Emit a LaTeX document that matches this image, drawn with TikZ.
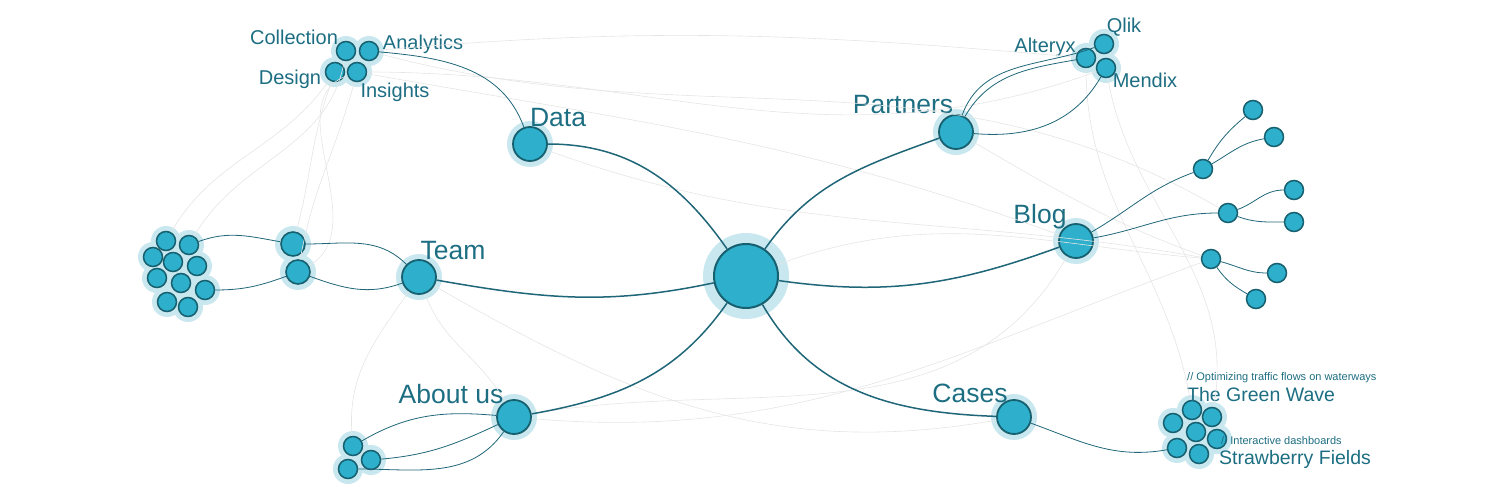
\documentclass[tikz,border=0pt]{standalone}
\usepackage{fontspec}
\setmainfont{Liberation Sans}
\usetikzlibrary{positioning,calc}
\pgfdeclarelayer{background}
\pgfsetlayers{background,main}
\definecolor{dotcol}{HTML}{2EAFCC}
\definecolor{rimcol}{HTML}{16606F}
\definecolor{glowcol}{HTML}{C8E7EF}
\definecolor{inkcol}{HTML}{1D6E82}
\definecolor{linkcol}{HTML}{1F6678}

\tikzset{
  hub/.style={circle, draw=rimcol, line width=2pt, fill=dotcol, inner sep=0pt, minimum size=64pt},
  topic/.style={circle, draw=rimcol, line width=1.8pt, fill=dotcol, inner sep=0pt, minimum size=34pt},
  mid/.style={circle, draw=rimcol, line width=1.6pt, fill=dotcol, inner sep=0pt, minimum size=24pt},
  leaf/.style={circle, draw=rimcol, line width=1.5pt, fill=dotcol, inner sep=0pt, minimum size=19pt},
  biglbl/.style={text=inkcol, font=\fontsize{26.5}{28}\selectfont, inner sep=0pt},
  smalllbl/.style={text=inkcol, font=\fontsize{20}{22}\selectfont, inner sep=0pt},
  caselbl/.style={text=inkcol, font=\fontsize{19.5}{21}\selectfont, inner sep=0pt, anchor=west},
  notelbl/.style={text=inkcol, font=\fontsize{11}{12}\selectfont, inner sep=0pt, anchor=west},
  link/.style={draw=linkcol, line width=1.5pt},
  twig/.style={draw=linkcol, line width=0.8pt},
  faint/.style={draw=black!10, line width=0.6pt},
  glow/.style={fill=glowcol}
}

\begin{document}
\begin{tikzpicture}[x=1pt, y=-1pt]
    \useasboundingbox (0,0) rectangle (1500,500);

    % Hub and topics
    \node[hub] (hub) at (746,276) {};
    \node[topic] (data) at (530,144) {};
    \node[topic] (team) at (419,277) {};
    \node[topic] (about) at (514,417) {};
    \node[topic] (partners) at (956,132) {};
    \node[topic] (blog) at (1076,241) {};
    \node[topic] (cases) at (1014,417) {};

    \node[biglbl] (dataL) at (558,118) {Data};
    \node[biglbl] (teamL) at (453,251) {Team};
    \node[biglbl] (aboutL) at (451,394) {About us};
    \node[biglbl] (partnersL) at (903,105) {Partners};
    \node[biglbl] (blogL) at (1040,217) {Blog};
    \node[biglbl] (casesL) at (970,393) {Cases};

    % Data cluster
    \node[leaf] (col) at (346,51) {};
    \node[leaf] (ana) at (369,51) {};
    \node[leaf] (des) at (335,72) {};
    \node[leaf] (ins) at (357,72) {};
    \node[smalllbl] (colL) at (294,37) {Collection};
    \node[smalllbl] (anaL) at (423,44) {Analytics};
    \node[smalllbl] (desL) at (290,79) {Design};
    \node[smalllbl] (insL) at (395,92) {Insights};

    % Partners cluster
    \node[leaf] (qlik) at (1104,44) {};
    \node[leaf] (alteryx) at (1086,58) {};
    \node[leaf] (mendix) at (1106,68) {};
    \node[smalllbl] (qlikL) at (1124,27) {Qlik};
    \node[smalllbl] (alteryxL) at (1045,47) {Alteryx};
    \node[smalllbl] (mendixL) at (1145,80) {Mendix};

    % Team cluster
    \node[mid] (tm1) at (293,244) {};
    \node[mid] (tm2) at (298,272) {};
    \foreach \n/\x/\y in {t1/166/241, t2/189/245, t3/153/257, t4/173/262, t5/197/266,
                         t6/157/278, t7/181/283, t8/205/290, t9/167/302, t10/188/307}
      \node[leaf] (\n) at (\x,\y) {};

    % About us cluster
    \node[leaf] (a1) at (353,446) {};
    \node[leaf] (a2) at (371,460) {};
    \node[leaf] (a3) at (348,469) {};

    % Blog tree
    \foreach \n/\x/\y in {b1/1203/169, b1a/1253/110, b1b/1274/137, b2/1228/213, b2a/1294/190,
                         b2b/1294/222, b3/1211/259, b3a/1277/273, b3b/1256/299}
      \node[leaf] (\n) at (\x,\y) {};

    % Cases cluster
    \foreach \n/\x/\y in {c1/1192/410, c2/1212/417, c3/1173/423, c4/1196/432,
                         c5/1217/439, c6/1177/448, c7/1199/454}
      \node[leaf] (\n) at (\x,\y) {};
    \node[notelbl] (greenN) at (1187,378) {// Optimizing traffic flows on waterways};
    \node[caselbl] (greenL) at (1187,395) {The Green Wave};
    \node[notelbl] (strawN) at (1221,441) {// Interactive dashboards};
    \node[caselbl] (strawL) at (1219,459) {Strawberry Fields};

    % Glow behind the nodes
    \begin{pgfonlayer}{background}
      \fill[glow] (hub) circle (43pt);
      \foreach \n in {data, team, about, partners, blog, cases}
        \fill[glow] (\n) circle (23pt);
      \foreach \n in {tm1, tm2}
        \fill[glow] (\n) circle (18pt);
      \foreach \n in {col, ana, des, ins, qlik, alteryx, mendix, a1, a2, a3,
                      t1, t2, t3, t4, t5, t6, t7, t8, t9, t10, c1, c2, c3, c4, c5, c6, c7}
        \fill[glow] (\n) circle (15pt);
    \end{pgfonlayer}

    % Faint cross links
    \draw[faint] (ana) to[out=5, in=175] (alteryx);
    \draw[faint] (ins) to[out=0, in=200] (mendix);
    \draw[faint] (ins) to[out=-10, in=160] (blog);
    \draw[faint] (ana) to[out=-15, in=150] (b2);
    \draw[faint] (des) to[out=235, in=60] (t1);
    \draw[faint] (des) to[out=250, in=75] (tm1);
    \draw[faint] (ins) to[out=255, in=80] (tm2);
    \draw[faint] (col) to[out=260, in=60] (t2);
    \draw[faint] (data) to[out=-20, in=170] (b3);
    \draw[faint] (team) to[out=-30, in=190] (cases);
    \draw[faint] (team) to[out=235, in=95] (a1);
    \draw[faint] (team) to[out=-70, in=120] (about);
    \draw[faint] (about) to[out=10, in=240] (blog);
    \draw[faint] (about) to[out=-5, in=200] (b3);
    \draw[faint] (alteryx) to[out=-90, in=100] (c1);
    \draw[faint] (mendix) to[out=-80, in=80] (c2);
    \draw[faint] (partners) to[out=-30, in=160] (b3);
    \draw[faint] (hub) to[out=20, in=175] (b3);
    \draw[faint] (tm2) to[out=30, in=200] (ins);

    % Main links
    \draw[link] (data) to[out=0, in=125] (hub);
    \draw[link] (team) to[out=-10, in=192] (hub);
    \draw[link] (about) to[out=10, in=235] (hub);
    \draw[link] (hub) to[out=55, in=200] (partners);
    \draw[link] (hub) to[out=-8, in=200] (blog);
    \draw[link] (hub) to[out=-60, in=178] (cases);

    % Twigs
    \draw[twig] (ana) to[out=-5, in=110] (data);
    \draw[twig] (partners) to[out=70, in=200] (qlik);
    \draw[twig] (partners) to[out=60, in=190] (alteryx);
    \draw[twig] (partners) to[out=-5, in=240] (mendix);
    \draw[twig] (blog) to[out=30, in=200] (b1);
    \draw[twig] (b1) to[out=60, in=220] (b1a);
    \draw[twig] (b1) to[out=30, in=190] (b1b);
    \draw[twig] (blog) to[out=10, in=180] (b2);
    \draw[twig] (b2) to[out=20, in=180] (b2a);
    \draw[twig] (b2) to[out=-20, in=180] (b2b);
    \draw[twig] (b3) to[out=-15, in=180] (b3a);
    \draw[twig] (b3) to[out=-55, in=150] (b3b);
    \draw[twig] (cases) to[out=-20, in=190] (c6);
    \draw[twig] (t2) to[out=20, in=170] (tm1);
    \draw[twig] (t8) to[out=0, in=200] (tm2);
    \draw[twig] (tm1) to[out=0, in=135] (team);
    \draw[twig] (tm2) to[out=-20, in=200] (team);
    \draw[twig] (a1) to[out=30, in=175] (about);
    \draw[twig] (a2) to[out=5, in=205] (about);
    \draw[twig] (a3) to[out=0, in=235] (about);
\end{tikzpicture}
\end{document}
